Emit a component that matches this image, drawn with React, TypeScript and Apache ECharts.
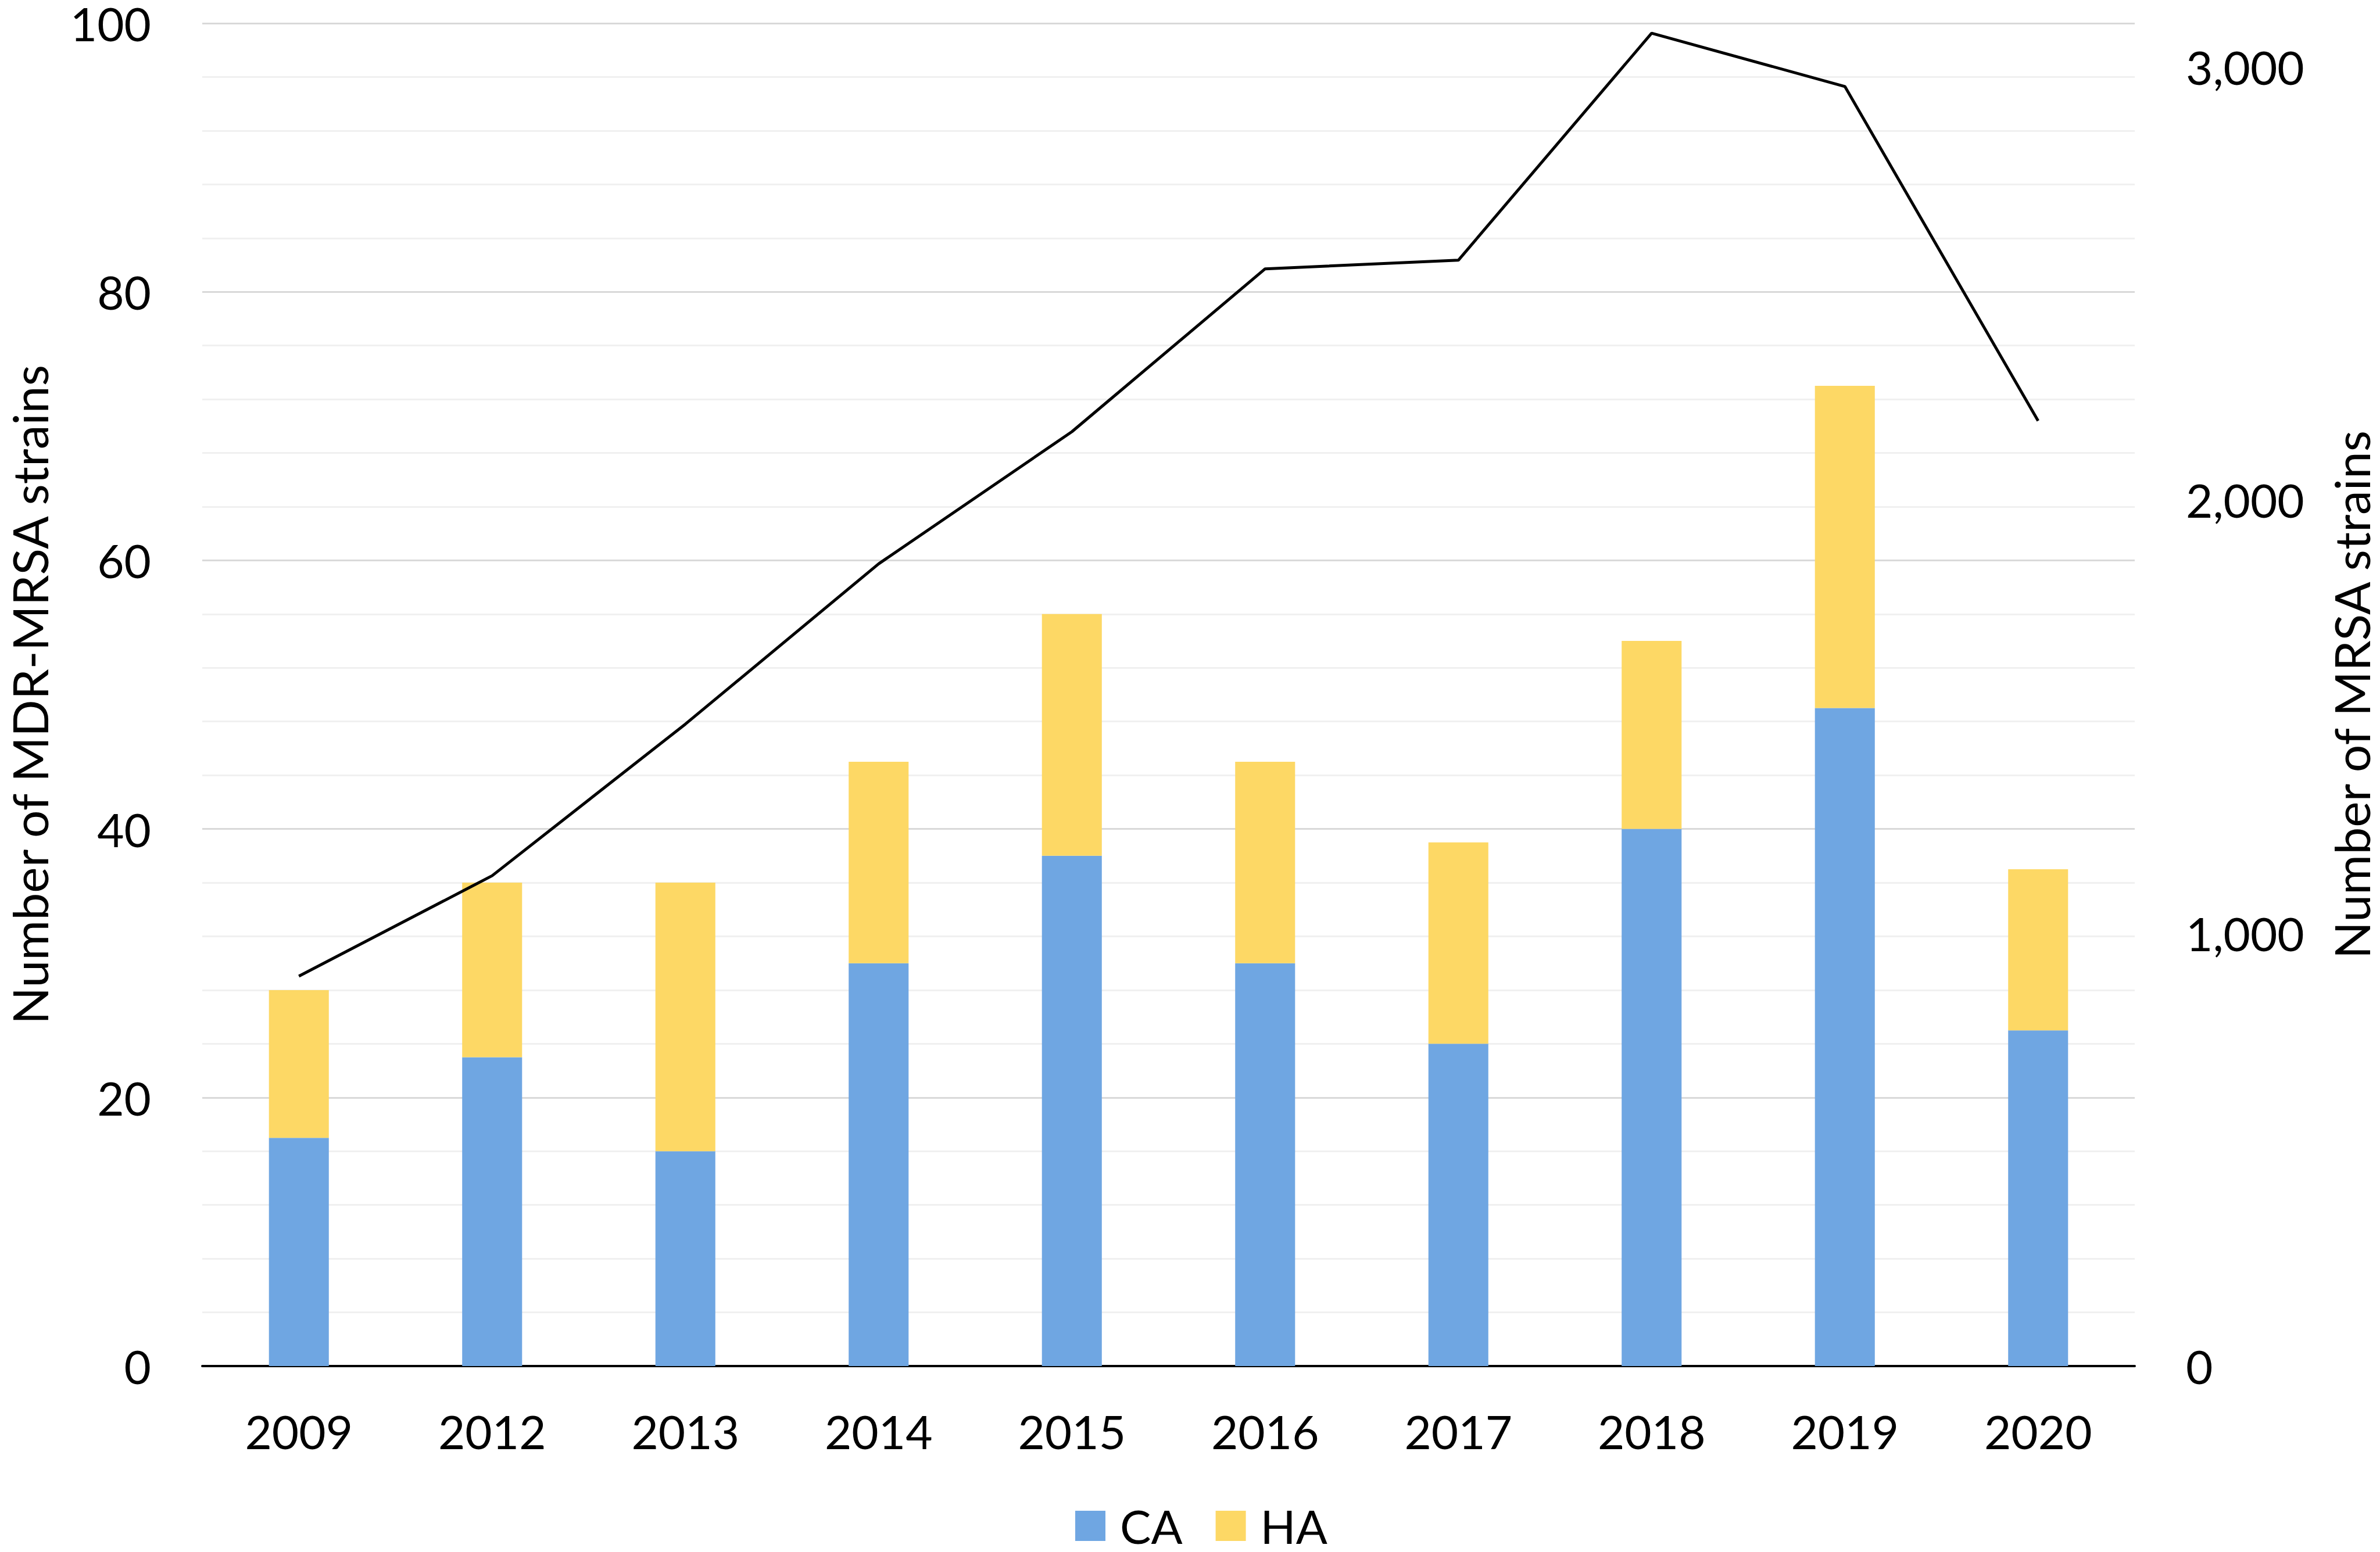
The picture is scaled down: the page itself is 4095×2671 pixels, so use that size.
import React, { useEffect, useRef } from "react";
import * as echarts from "echarts";

const years = ["2009", "2012", "2013", "2014", "2015", "2016", "2017", "2018", "2019", "2020"];
const caValues = [17, 23, 16, 30, 38, 30, 24, 40, 49, 25];
const haValues = [11, 13, 20, 15, 18, 15, 15, 14, 24, 12];
const mrsaValues = [900, 1132, 1482, 1852, 2157, 2533, 2553, 3077, 2954, 2182];

const leftTitle = "Number of MDR-MRSA strains";
const rightTitle = "Number of MRSA strains";

const FONT = "Lato";
const FS = 80;
const TITLE_FS = 84;

export default function App() {
  const ref = useRef<HTMLDivElement>(null);

  useEffect(() => {
    document.body.style.margin = "0";
    if (!ref.current) return;
    const chart = echarts.init(ref.current, null, { renderer: "svg" });
    chart.setOption({
      animation: false,
      backgroundColor: "#ffffff",
      textStyle: { fontFamily: FONT, color: "#000" },
      grid: { left: 340, right: 413, top: 38, bottom: 320, containLabel: false },
      legend: {
        data: ["CA", "HA"],
        left: 1850,
        top: 2586,
        icon: "rect",
        itemWidth: 52,
        itemHeight: 52,
        itemGap: 57,
        padding: 0,
        textStyle: {
          fontFamily: FONT,
          fontSize: FS,
          lineHeight: 60,
          color: "#000",
          padding: [0, 0, 0, 20],
        },
      },
      xAxis: {
        type: "category",
        data: years,
        axisTick: { show: false },
        axisLine: { lineStyle: { color: "#000", width: 4 } },
        axisLabel: { fontFamily: FONT, fontSize: FS, color: "#000", margin: 72 },
      },
      yAxis: [
        {
          type: "value",
          min: 0,
          max: 100,
          interval: 20,
          name: leftTitle,
          nameLocation: "middle",
          nameRotate: 90,
          nameGap: 256,
          nameTextStyle: { fontFamily: FONT, fontSize: TITLE_FS, color: "#000" },
          axisLine: { show: false },
          axisTick: { show: false },
          axisLabel: { fontFamily: FONT, fontSize: FS, lineHeight: 60, color: "#000", margin: 88 },
          splitLine: { show: true, lineStyle: { color: "#D9D9D9", width: 3 } },
          minorTick: { show: false, splitNumber: 5 },
          minorSplitLine: { show: true, lineStyle: { color: "#F0F0F0", width: 3 } },
        },
        {
          type: "value",
          min: 0,
          max: 3100,
          interval: 1000,
          position: "right",
          name: rightTitle,
          nameLocation: "middle",
          nameRotate: 90,
          nameGap: 330,
          nameTextStyle: { fontFamily: FONT, fontSize: TITLE_FS, color: "#000" },
          axisLine: { show: false },
          axisTick: { show: false },
          splitLine: { show: false },
          axisLabel: {
            fontFamily: FONT,
            fontSize: FS,
            lineHeight: 60,
            color: "#000",
            margin: 88,
            formatter: (v: number) => (v > 3000 ? "" : v.toLocaleString("en-US")),
          },
        },
      ],
      series: [
        {
          name: "CA",
          type: "bar",
          stack: "total",
          barWidth: "31%",
          data: caValues,
          itemStyle: { color: "#6FA6E2" },
        },
        {
          name: "HA",
          type: "bar",
          stack: "total",
          barWidth: "31%",
          data: haValues,
          itemStyle: { color: "#FDD865" },
        },
        {
          name: "MRSA",
          type: "line",
          yAxisIndex: 1,
          data: mrsaValues,
          symbol: "none",
          lineStyle: { color: "#000", width: 5 },
          z: 5,
        },
      ],
    });
    return () => chart.dispose();
  }, []);

  return <div ref={ref} style={{ width: 4095, height: 2671 }} />;
}
